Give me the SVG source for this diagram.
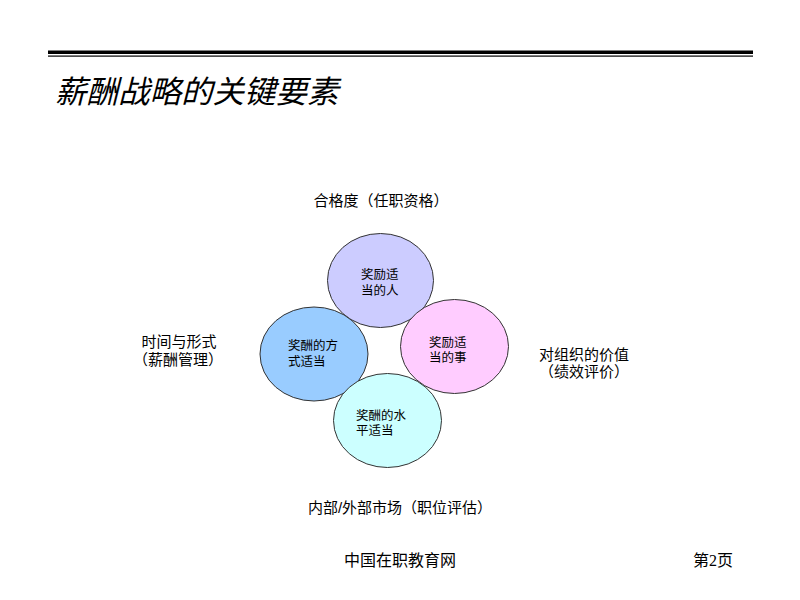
<svg xmlns="http://www.w3.org/2000/svg" width="800" height="600" viewBox="0 0 800 600">
<style>
text{font-family:"Liberation Sans","Noto Sans CJK SC",sans-serif;fill:#000}
.lbl{font-size:15px}
.in{font-size:12.5px}
.c{stroke:#333;stroke-width:1}
</style>
<rect width="800" height="600" fill="#fff"/>
<rect x="48" y="50.5" width="705" height="3.5" fill="#000"/>
<rect x="48" y="55.5" width="705" height="1.2" fill="#000"/>
<text x="55" y="103" style="font-size:31.5px;font-style:italic">薪酬战略的关键要素</text>
<g id="top-label"><text class="lbl" x="381" y="206" text-anchor="middle">合格度（任职资格）</text></g>
<g id="left-label"><text class="lbl" x="179" y="347" text-anchor="middle">时间与形式</text><text class="lbl" x="178" y="365" text-anchor="middle">（薪酬管理）</text></g>
<g id="right-label"><text class="lbl" x="584" y="360" text-anchor="middle">对组织的价值</text><text class="lbl" x="584" y="377" text-anchor="middle">（绩效评价）</text></g>
<g id="bottom-label"><text class="lbl" x="400" y="513" text-anchor="middle">内部/外部市场（职位评估）</text></g>
<g id="connectors"></g>
<g id="n-top"><ellipse class="c" cx="380.5" cy="280.5" rx="53" ry="47" fill="#CCCCFF"/><text class="in" x="361" y="279">奖励适</text><text class="in" x="361" y="295">当的人</text></g>
<g id="n-right"><ellipse class="c" cx="454.5" cy="346.5" rx="54" ry="47" fill="#FFCCFF"/><text class="in" x="429" y="347">奖励适</text><text class="in" x="429" y="362">当的事</text></g>
<g id="n-left"><ellipse class="c" cx="314" cy="354" rx="54" ry="47" fill="#99CCFF"/><text class="in" x="288" y="350">奖酬的方</text><text class="in" x="288" y="366">式适当</text></g>
<g id="n-bottom"><ellipse class="c" cx="387.5" cy="420.5" rx="54" ry="47" fill="#CCFFFF"/><text class="in" x="356" y="420">奖酬的水</text><text class="in" x="356" y="435">平适当</text></g>
<text x="344" y="566" style="font-size:16px">中国在职教育网</text>
<text x="693" y="566" style="font-size:16px;font-family:'Liberation Serif','Noto Sans CJK SC',serif">第2页</text>
</svg>
